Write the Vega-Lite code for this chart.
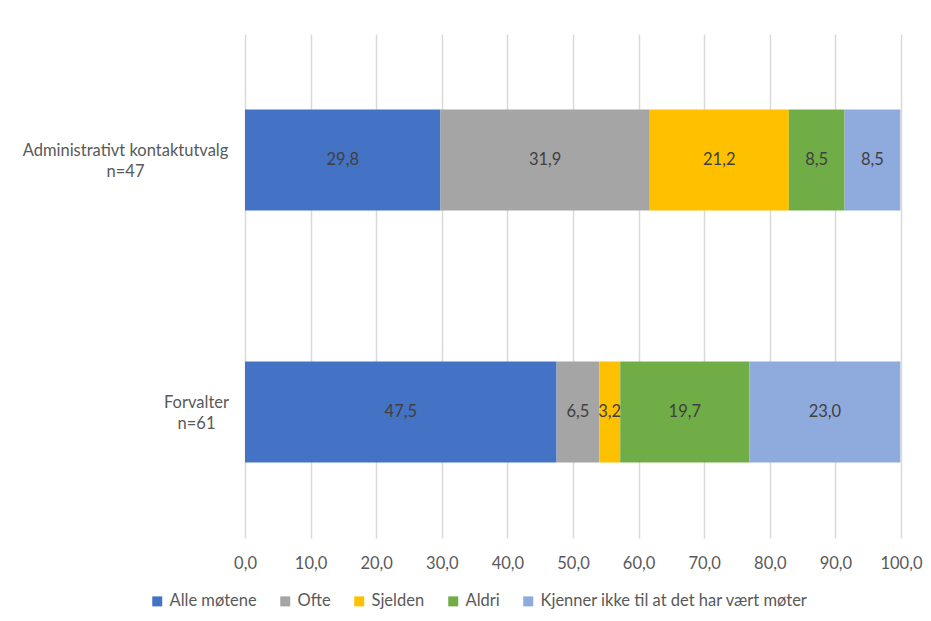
{
  "$schema": "https://vega.github.io/schema/vega-lite/v6.json",
  "width": 656,
  "height": 504,
  "autosize": {"type": "none"},
  "padding": {"left": 245, "top": 34, "right": 30, "bottom": 83},
  "background": "white",
  "data": {
    "values": [
      {"group": "Administrativt kontaktutvalg|n=47", "cat": "Alle møtene", "order": 1, "value": 29.8},
      {"group": "Administrativt kontaktutvalg|n=47", "cat": "Ofte", "order": 2, "value": 31.9},
      {"group": "Administrativt kontaktutvalg|n=47", "cat": "Sjelden", "order": 3, "value": 21.2},
      {"group": "Administrativt kontaktutvalg|n=47", "cat": "Aldri", "order": 4, "value": 8.5},
      {"group": "Administrativt kontaktutvalg|n=47", "cat": "Kjenner ikke til at det har vært møter", "order": 5, "value": 8.5},
      {"group": "Forvalter|n=61", "cat": "Alle møtene", "order": 1, "value": 47.5},
      {"group": "Forvalter|n=61", "cat": "Ofte", "order": 2, "value": 6.5},
      {"group": "Forvalter|n=61", "cat": "Sjelden", "order": 3, "value": 3.2},
      {"group": "Forvalter|n=61", "cat": "Aldri", "order": 4, "value": 19.7},
      {"group": "Forvalter|n=61", "cat": "Kjenner ikke til at det har vært møter", "order": 5, "value": 23.0}
    ]
  },
  "transform": [
    {"stack": "value", "groupby": ["group"], "sort": [{"field": "order"}], "as": ["v0", "v1"]},
    {"calculate": "(datum.v0 + datum.v1) / 2", "as": "mid"}
  ],
  "encoding": {
    "y": {
      "field": "group",
      "type": "nominal",
      "sort": ["Administrativt kontaktutvalg|n=47", "Forvalter|n=61"],
      "scale": {"paddingInner": 0.6, "paddingOuter": 0.3},
      "axis": {
        "title": null,
        "domain": false,
        "ticks": false,
        "labelExpr": "split(datum.label, '|')",
        "labelAlign": "center",
        "labelBaseline": "middle",
        "labelPadding": {"condition": {"test": "indexof(datum.value, 'Forvalter') === 0", "value": 49}, "value": 120},
        "labelOffset": -9,
        "labelFont": "Lato",
        "labelFontSize": 16.5,
        "labelColor": "#595959",
        "labelLineHeight": 21,
        "labelLimit": 400
      }
    }
  },
  "layer": [
    {
      "mark": {"type": "bar"},
      "encoding": {
        "x": {
          "field": "v0",
          "type": "quantitative",
          "scale": {"domain": [0, 100], "nice": false},
          "axis": {
            "title": null,
            "format": ".1f",
            "values": [0, 10, 20, 30, 40, 50, 60, 70, 80, 90, 100],
            "domain": false,
            "ticks": false,
            "grid": true,
            "gridColor": "#D9D9D9",
            "gridWidth": 1.5,
            "labelFlush": false,
            "labelOverlap": false,
            "labelPadding": 17,
            "labelFont": "Lato",
            "labelFontSize": 16.5,
            "labelColor": "#595959"
          }
        },
        "x2": {"field": "v1"},
        "color": {
          "field": "cat",
          "type": "nominal",
          "sort": ["Alle møtene", "Ofte", "Sjelden", "Aldri", "Kjenner ikke til at det har vært møter"],
          "scale": {
            "domain": ["Alle møtene", "Ofte", "Sjelden", "Aldri", "Kjenner ikke til at det har vært møter"],
            "range": ["#4472C4", "#A5A5A5", "#FFC000", "#70AD47", "#8FAADC"]
          },
          "legend": {
            "title": null,
            "orient": "none",
            "legendX": -96,
            "legendY": 559,
            "direction": "horizontal",
            "symbolType": "square",
            "symbolSize": 100,
            "symbolStrokeWidth": 0,
            "labelFont": "Lato",
            "labelFontSize": 16.5,
            "labelColor": "#595959",
            "columnPadding": 20,
            "labelOffset": 4,
            "labelLimit": 400
          }
        }
      }
    },
    {
      "mark": {"type": "text", "font": "Lato", "fontSize": 16.5, "color": "#404040", "baseline": "middle"},
      "encoding": {
        "x": {"field": "mid", "type": "quantitative"},
        "text": {"field": "value", "type": "quantitative", "format": ".1f"}
      }
    }
  ],
  "config": {
    "view": {"stroke": null},
    "locale": {"number": {"decimal": ",", "thousands": " ", "grouping": [3], "currency": ["", " kr"]}}
  }
}
